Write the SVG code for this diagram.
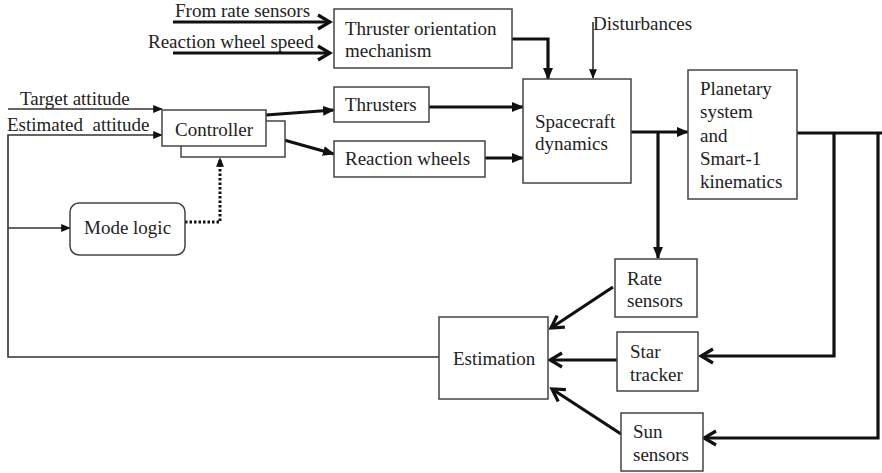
<svg xmlns="http://www.w3.org/2000/svg" width="882" height="473" viewBox="0 0 882 473">
<style>
.box{fill:#fff;stroke:#444;stroke-width:1.5}
.t{font-family:'Liberation Serif',Times,'DejaVu Serif',serif;font-size:19px;fill:#222}
.thick{fill:none;stroke:#111;stroke-width:3.2}
.thin{fill:none;stroke:#333;stroke-width:1.6}
.dot{fill:none;stroke:#111;stroke-width:3;stroke-dasharray:2.5,2}
</style>
<defs>
<marker id="tri" markerUnits="userSpaceOnUse" viewBox="0 0 12 10" refX="11" refY="5" markerWidth="12" markerHeight="10" orient="auto"><path d="M0,0 L12,5 L0,10 z" fill="#111"/></marker>
<marker id="tris" markerUnits="userSpaceOnUse" viewBox="0 0 12 10" refX="11" refY="5" markerWidth="10" markerHeight="8" orient="auto"><path d="M0,0 L12,5 L0,10 z" fill="#111"/></marker>
<marker id="chev" markerUnits="userSpaceOnUse" viewBox="-3 -3 18 20" refX="12" refY="7" markerWidth="18" markerHeight="20" orient="auto"><path d="M0,0 L12,7 L0,14" fill="none" stroke="#111" stroke-width="3.2"/></marker>
</defs>

<g id="connectors">
<path class="thick" d="M173,22 H330" marker-end="url(#chev)"/>
<path class="thick" d="M173,53 H330" marker-end="url(#chev)"/>
<path class="thin" d="M8,109 H162" marker-end="url(#tris)"/>
<path class="thin" d="M440,357 H8 V135 H162" marker-end="url(#tris)"/>
<path class="thin" d="M8,228 H70" marker-end="url(#tris)"/>
<path class="dot" d="M185,222 H220 V158" marker-end="url(#tris)"/>
<path class="thick" d="M266,115 L334,110" marker-end="url(#tri)"/>
<path class="thick" d="M266,135 L334,154" marker-end="url(#tri)"/>
<path class="thick" d="M429,107 H523" marker-end="url(#tri)"/>
<path class="thick" d="M485,158 H523" marker-end="url(#tri)"/>
<path class="thick" d="M512,39 H548 V79" marker-end="url(#tri)"/>
<path class="thin" d="M593,22 V78" marker-end="url(#tris)"/>
<path class="thick" d="M631,132 H688" marker-end="url(#tri)"/>
<path class="thick" d="M658,132 V258" marker-end="url(#tri)"/>
<path class="thick" d="M797,133 H882"/>
<path class="thick" d="M834,133 V356 H701" marker-end="url(#chev)"/>
<path class="thick" d="M878,133 V438 H704" marker-end="url(#chev)"/>
<path class="thick" d="M613,287 L551,328" marker-end="url(#chev)"/>
<path class="thick" d="M617,360 H550" marker-end="url(#chev)"/>
<path class="thick" d="M621,434 L552,389" marker-end="url(#chev)"/>
</g>

<g id="labels">
<text class="t" x="175" y="17">From rate sensors</text>
<text class="t" x="148" y="48">Reaction wheel speed</text>
<text class="t" x="20" y="105">Target attitude</text>
<text class="t" x="7" y="131" xml:space="preserve">Estimated  attitude</text>
<text class="t" x="593" y="30">Disturbances</text>
</g>

<g id="thruster-orientation">
<rect class="box" x="334" y="9" width="178" height="59"/>
<text class="t" x="345" y="35">Thruster orientation</text>
<text class="t" x="345" y="57">mechanism</text>
</g>

<g id="controller">
<rect class="box" x="181" y="121" width="104" height="36"/>
<rect class="box" x="162" y="110" width="104" height="36"/>
<text class="t" x="175" y="136">Controller</text>
</g>

<g id="thrusters">
<rect class="box" x="334" y="87" width="95" height="35"/>
<text class="t" x="345" y="111">Thrusters</text>
</g>

<g id="reaction-wheels">
<rect class="box" x="334" y="141" width="151" height="36"/>
<text class="t" x="345" y="165">Reaction wheels</text>
</g>

<g id="spacecraft-dynamics">
<rect class="box" x="523" y="79" width="108" height="104"/>
<text class="t" x="535" y="128">Spacecraft</text>
<text class="t" x="535" y="150">dynamics</text>
</g>

<g id="planetary">
<rect class="box" x="688" y="70" width="109" height="129"/>
<text class="t" x="700" y="95">Planetary</text>
<text class="t" x="700" y="118">system</text>
<text class="t" x="700" y="142">and</text>
<text class="t" x="700" y="165">Smart-1</text>
<text class="t" x="700" y="188">kinematics</text>
</g>

<g id="mode-logic">
<rect class="box" x="70" y="203" width="115" height="52" rx="9"/>
<text class="t" x="84" y="234">Mode logic</text>
</g>

<g id="rate-sensors">
<rect class="box" x="615" y="259" width="82" height="58"/>
<text class="t" x="627" y="285">Rate</text>
<text class="t" x="627" y="307">sensors</text>
</g>

<g id="star-tracker">
<rect class="box" x="617" y="332" width="81" height="59"/>
<text class="t" x="630" y="358">Star</text>
<text class="t" x="630" y="381">tracker</text>
</g>

<g id="sun-sensors">
<rect class="box" x="621" y="413" width="82" height="58"/>
<text class="t" x="633" y="438">Sun</text>
<text class="t" x="633" y="461">sensors</text>
</g>

<g id="estimation">
<rect class="box" x="439" y="317" width="109" height="82"/>
<text class="t" x="453" y="365">Estimation</text>
</g>
</svg>
